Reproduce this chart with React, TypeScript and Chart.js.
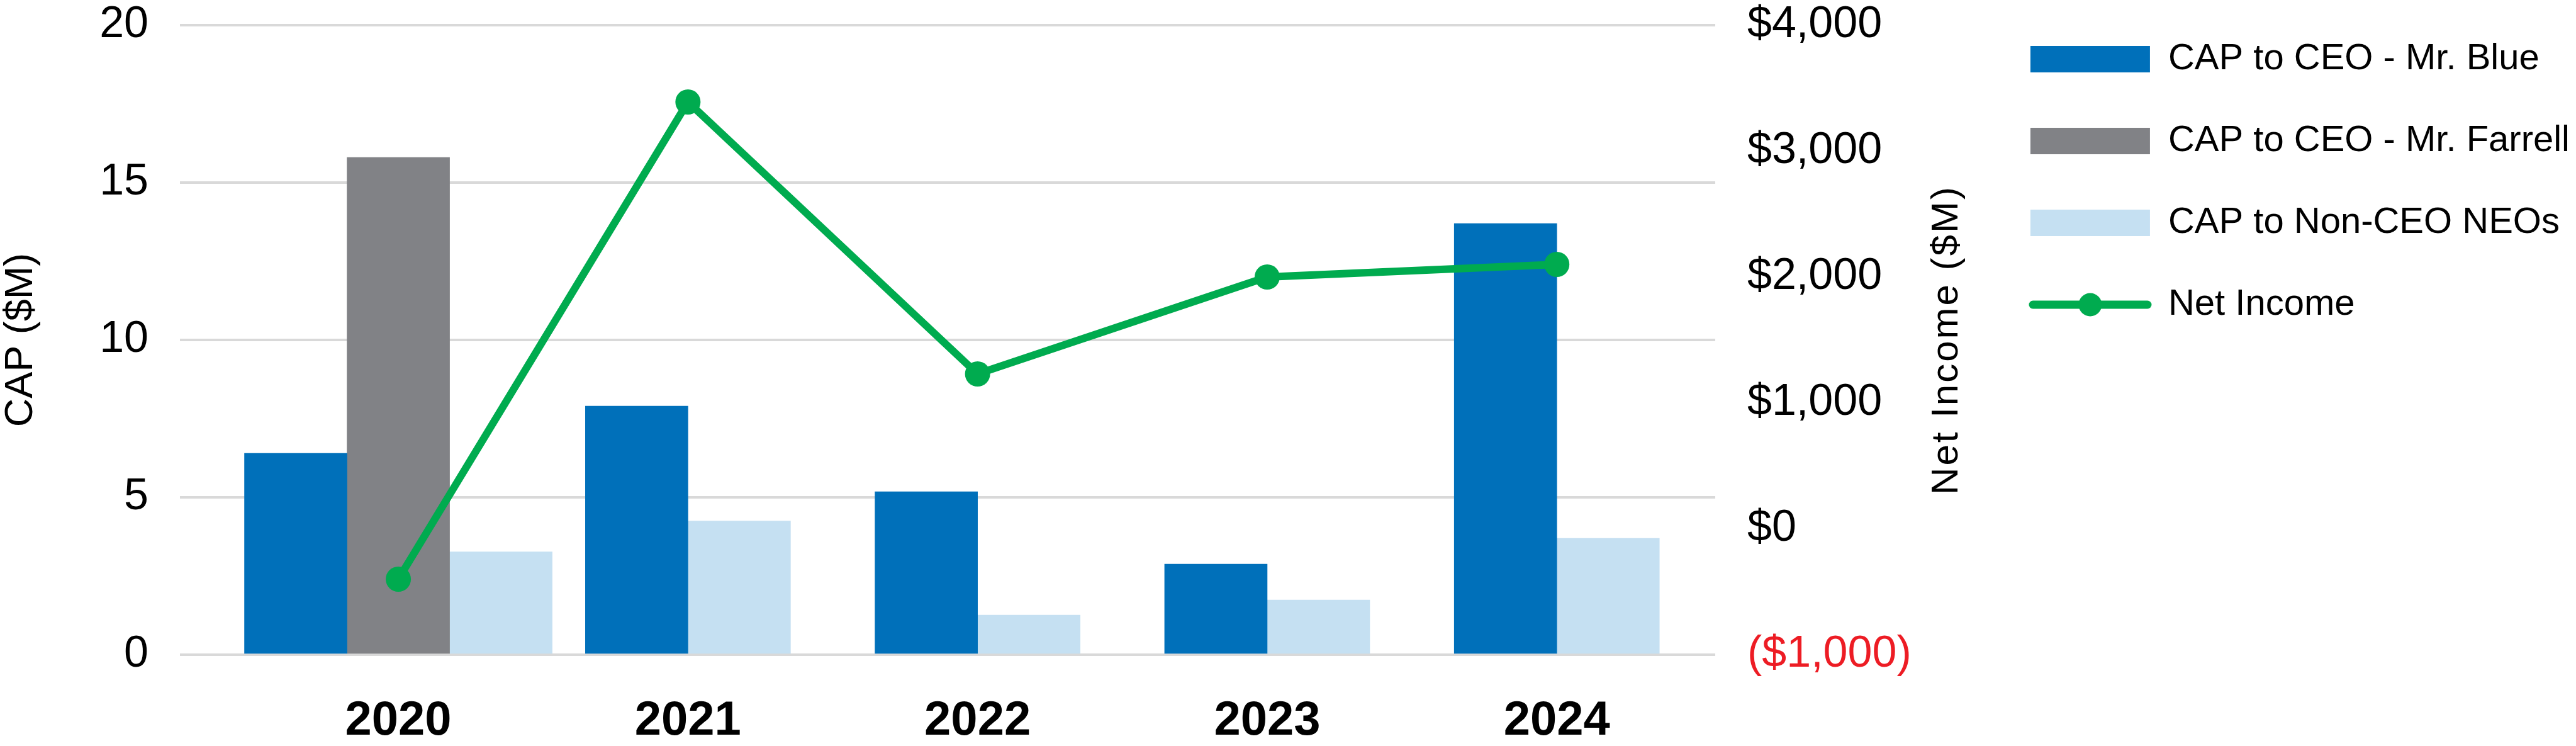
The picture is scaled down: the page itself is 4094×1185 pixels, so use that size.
import React, { useEffect, useRef } from 'react';
import { Chart, registerables } from 'chart.js';

Chart.register(...registerables);

const FONT = "'Liberation Sans', Arial, Helvetica, sans-serif";
Chart.defaults.font.family = FONT;
Chart.defaults.color = '#000000';

// ---------- data ----------
const categories = ['2020', '2021', '2022', '2023', '2024'];
const seriesLabels = [
  'CAP to CEO - Mr. Blue',
  'CAP to CEO - Mr. Farrell',
  'CAP to Non-CEO NEOs',
  'Net Income',
];
const capCeoBlue = [6.4, 7.9, 5.18, 2.88, 13.7];
const capCeoFarrell = [15.8, null, null, null, null];
const capNonCeo = [3.27, 4.25, 1.26, 1.74, 3.7];
const netIncome = [-400, 3390, 1230, 2000, 2100];
const leftTickValues = [0, 5, 10, 15, 20];
const rightTickValues = [-1000, 0, 1000, 2000, 3000, 4000];
const leftAxisTitle = 'CAP ($M)';
const rightAxisTitle = 'Net Income ($M)';

// ---------- style / layout ----------
const BLUE = '#0070BA';
const GRAY = '#818286';
const LIGHT = '#C5E0F2';
const GREEN = '#00AB4F';
const RED = '#ED1C24';
const GRID = '#D9D9D9';

const LEFT_AXIS_WIDTH = 286;
const PLOT_RIGHT = 2726;
const X_AXIS_HEIGHT = 145;
const X_MIN = 2019.246;
const X_MAX = 2024.547;
const RIGHT_TITLE_OFFSET = 368;

function fmtMoney(v: number): string {
  const s = '$' + Math.abs(v).toLocaleString('en-US');
  return v < 0 ? '(' + s + ')' : s;
}

function makeLineIcon(): HTMLCanvasElement {
  const c = document.createElement('canvas');
  c.width = 196;
  c.height = 40;
  const g = c.getContext('2d')!;
  g.strokeStyle = GREEN;
  g.lineWidth = 13;
  g.lineCap = 'round';
  g.beginPath();
  g.moveTo(7, 20);
  g.lineTo(189, 20);
  g.stroke();
  g.fillStyle = GREEN;
  g.beginPath();
  g.arc(98, 20, 18.5, 0, Math.PI * 2);
  g.fill();
  return c;
}

const rightTitlePlugin = {
  id: 'rightTitle',
  afterDraw(chart: any) {
    const s = chart.scales.y1;
    if (!s) return;
    const ctx = chart.ctx as CanvasRenderingContext2D;
    ctx.save();
    ctx.translate(s.left + RIGHT_TITLE_OFFSET, (chart.chartArea.top + chart.chartArea.bottom) / 2);
    ctx.rotate(-Math.PI / 2);
    ctx.font = `60px ${FONT}`;
    (ctx as any).letterSpacing = '3px';
    ctx.fillStyle = '#000000';
    ctx.textAlign = 'center';
    ctx.textBaseline = 'middle';
    ctx.fillText(rightAxisTitle, 0, 0);
    ctx.restore();
  },
};

export default function App() {
  const ref = useRef<HTMLCanvasElement>(null);

  useEffect(() => {
    document.body.style.margin = '0';
    document.body.style.overflow = 'hidden';
    const canvas = ref.current;
    if (!canvas) return;
    const lineIcon = makeLineIcon();

    const barBase = {
      type: 'bar',
      borderWidth: 0,
      barThickness: 163,
      skipNull: true,
      yAxisID: 'y',
      order: 1,
    };

    const chart = new Chart(canvas, {
      type: 'bar',
      data: {
        labels: categories,
        datasets: [
          { ...barBase, label: seriesLabels[0], data: capCeoBlue, backgroundColor: BLUE } as any,
          { ...barBase, label: seriesLabels[1], data: capCeoFarrell, backgroundColor: GRAY } as any,
          { ...barBase, label: seriesLabels[2], data: capNonCeo, backgroundColor: LIGHT } as any,
          {
            type: 'line',
            label: seriesLabels[3],
            data: netIncome,
            yAxisID: 'y1',
            borderColor: GREEN,
            backgroundColor: GREEN,
            borderWidth: 12,
            pointRadius: 20,
            pointHoverRadius: 20,
            pointBackgroundColor: GREEN,
            pointBorderColor: GREEN,
            pointBorderWidth: 0,
            tension: 0,
            fill: false,
            order: 0,
          } as any,
        ],
      },
      options: {
        animation: false,
        responsive: true,
        maintainAspectRatio: false,
        devicePixelRatio: 1,
        layout: { padding: { top: -7, left: 0, right: 0, bottom: 0 } },
        plugins: {
          tooltip: { enabled: false },
          legend: {
            position: 'right',
            align: 'start',
            maxWidth: 1400,
            labels: {
              usePointStyle: true,
              pointStyleWidth: 190,
              boxHeight: 42,
              padding: 72,
              color: '#000000',
              font: { size: 58, family: FONT },
              sort: (a: any, b: any) => a.datasetIndex - b.datasetIndex,
              generateLabels: (ch: any) => {
                const items = (Chart.defaults.plugins.legend.labels as any).generateLabels(ch);
                return items.map((it: any) =>
                  it.datasetIndex === 3
                    ? { ...it, pointStyle: lineIcon, lineWidth: 0 }
                    : { ...it, pointStyle: 'rect', lineWidth: 0, strokeStyle: 'rgba(0,0,0,0)' }
                );
              },
            },
          } as any,
        },
        scales: {
          x: {
            type: 'linear',
            offset: false,
            min: X_MIN,
            max: X_MAX,
            grid: { display: false, offset: false },
            border: { display: false },
            afterBuildTicks: (s: any) => {
              s.ticks = categories.map((c) => ({ value: Number(c) }));
            },
            afterFit: (s: any) => {
              s.height = X_AXIS_HEIGHT;
            },
            ticks: {
              autoSkip: false,
              maxRotation: 0,
              padding: 52,
              color: '#000000',
              font: { size: 76, weight: 'bold', lineHeight: 1.2 },
              callback: (v: any) => String(v),
            },
          } as any,
          y: {
            type: 'linear',
            position: 'left',
            min: 0,
            max: 20,
            afterBuildTicks: (s: any) => {
              s.ticks = leftTickValues.map((v) => ({ value: v }));
            },
            afterFit: (s: any) => {
              s.width = LEFT_AXIS_WIDTH;
            },
            grid: {
              color: GRID,
              lineWidth: 4,
              drawTicks: true,
              tickLength: 50,
              tickColor: 'rgba(0,0,0,0)',
            },
            border: { display: false },
            ticks: {
              padding: 0,
              color: '#000000',
              font: { size: 70, lineHeight: 80 / 70 },
              callback: (v: any) => String(v),
            },
            title: {
              display: true,
              text: leftAxisTitle,
              color: '#000000',
              font: { size: 63, lineHeight: 1 },
              padding: { top: 2, bottom: 0 },
            },
          } as any,
          y1: {
            type: 'linear',
            position: 'right',
            min: -1000,
            max: 4000,
            afterBuildTicks: (s: any) => {
              s.ticks = rightTickValues.map((v) => ({ value: v }));
            },
            afterFit: (s: any) => {
              const lw = (s.chart.legend && s.chart.legend.width) || 942;
              s.width = s.chart.width - PLOT_RIGHT - lw;
            },
            grid: {
              display: true,
              drawOnChartArea: false,
              color: 'rgba(0,0,0,0)',
              drawTicks: true,
              tickLength: 51,
              tickColor: 'rgba(0,0,0,0)',
            },
            border: { display: false },
            ticks: {
              padding: 0,
              font: { size: 70, lineHeight: 80 / 70 },
              color: (c: any) => (c.tick && c.tick.value < 0 ? RED : '#000000'),
              callback: (v: any) => fmtMoney(Number(v)),
            },
          } as any,
        },
      },
      plugins: [rightTitlePlugin],
    });

    return () => chart.destroy();
  }, []);

  return (
    <div style={{ position: 'relative', width: '4094px', height: '1185px' }}>
      <canvas ref={ref} />
    </div>
  );
}
